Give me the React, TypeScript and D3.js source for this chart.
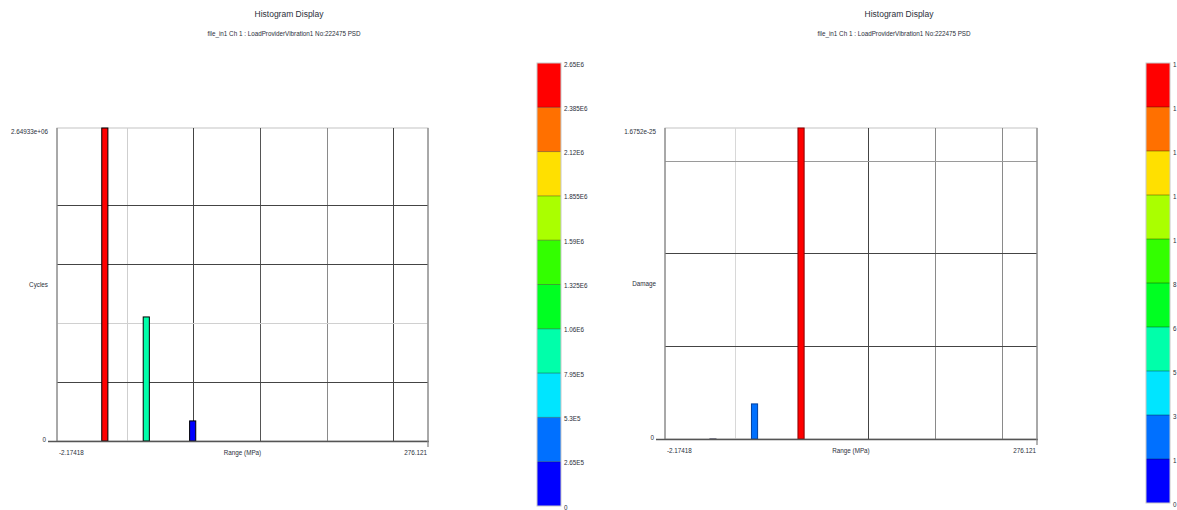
import React from "react";
import * as d3 from "d3";

// ---------- data ----------
const rangeBins = [33.7, 64.8, 99.6]; // bin centres (MPa)
const binWidth = 4.6; // MPa
const cycles = [2649330, 1050000, 170000];
const damage = [1.5e-28, 1.89e-26, 1.6752e-25];
const xMin = -2.17418;
const xMax = 276.121;
const xMinLabel = "-2.17418";
const xMaxLabel = "276.121";
const xGridTicks = [50, 100, 150, 200, 250];
const cyclesGridTicks = [500000, 1000000, 1500000, 2000000];
const damageGridTicks = [5e-26, 1e-25, 1.5e-25];
const cyclesMax = 2649330;
const damageMax = 1.6752e-25;
const legendColors = [
  "#0000FF", "#0070FF", "#00E5FF", "#00FFAA", "#00FF22",
  "#33FF00", "#AAFF00", "#FFE000", "#FF7000", "#FF0000",
]; // bottom -> top
const cyclesLegendLabels = [
  "0", "2.65E5", "5.3E5", "7.95E5", "1.06E6", "1.325E6",
  "1.59E6", "1.855E6", "2.12E6", "2.385E6", "2.65E6",
];
const damageLegendLabels = ["0", "1", "3", "5", "6", "8", "1", "1", "1", "1", "1"];
const titleText = "Histogram Display";
const subtitleText = "file_in1 Ch 1 : LoadProviderVibration1 No:222475  PSD";

const FONT = "'Liberation Sans', Arial, sans-serif";
const TXT = "#2b2f3a";

type ChartProps = {
  x0: number; x1: number; yTop: number; yBottom: number;
  values: number[]; maxV: number; yTicks: number[];
  yMaxLabel: string; yLabel: string;
  vGridColors: string[]; hGridColors: string[];
  titleX: number; legendX: number; legendBottom: number;
  legendLabels: string[];
  strokes: string[];
};

function Chart(p: ChartProps) {
  const x = d3.scaleLinear().domain([xMin, xMax]).range([p.x0, p.x1]);
  const y = d3.scaleLinear().domain([0, p.maxV]).range([p.yBottom, p.yTop]);
  const colorIdx = (v: number) => Math.min(9, Math.floor((v / p.maxV) * 10));
  const legY = d3.scaleLinear().domain([0, 10]).range([p.legendBottom, 63]);
  const legW = 24;
  return (
    <g>
      <text x={p.titleX} y={17} textAnchor="middle" fontSize={8.5} fill={TXT} fontFamily={FONT}>{titleText}</text>
      <text x={p.titleX - 5} y={36} textAnchor="middle" fontSize={6.3} fill={TXT} fontFamily={FONT}>{subtitleText}</text>
      {/* plot border */}
      <rect x={p.x0} y={p.yTop} width={p.x1 - p.x0} height={p.yBottom - p.yTop} fill="#fff" stroke="#c4c4c4" strokeWidth={1} />
      {/* grid */}
      {xGridTicks.map((t, i) => (
        <line key={"v" + i} x1={Math.round(x(t)) + 0.5} x2={Math.round(x(t)) + 0.5} y1={p.yTop} y2={p.yBottom} stroke={p.vGridColors[i]} strokeWidth={1} />
      ))}
      {p.yTicks.map((t, i) => (
        <line key={"h" + i} x1={p.x0} x2={p.x1} y1={Math.round(y(t)) + 0.5} y2={Math.round(y(t)) + 0.5} stroke={p.hGridColors[i]} strokeWidth={1} />
      ))}
      {/* bars */}
      {p.values.map((v, i) => {
        const bx = x(rangeBins[i] - binWidth / 2);
        const bw = x(rangeBins[i] + binWidth / 2) - bx;
        const top = y(v);
        return (
          <rect key={"b" + i} x={bx} y={top} width={bw} height={Math.max(0.5, p.yBottom - top)}
            fill={legendColors[colorIdx(v)]} stroke={p.strokes[i]} strokeWidth={1} />
        );
      })}
      {/* axes */}
      <line x1={p.x0} x2={p.x0} y1={p.yTop} y2={p.yBottom} stroke="#8a8a8a" strokeWidth={1.3} />
      <line x1={p.x0 - 9} x2={p.x1 + 1} y1={p.yBottom + 0.5} y2={p.yBottom + 0.5} stroke="#555" strokeWidth={1.3} />
      <line x1={p.x1} x2={p.x1} y1={p.yTop} y2={p.yBottom + 6} stroke="#8a8a8a" strokeWidth={1.3} />
      <text x={p.x0 - 9} y={p.yTop + 6} textAnchor="end" fontSize={6.3} fill={TXT} fontFamily={FONT}>{p.yMaxLabel}</text>
      <text x={p.x0 - 11} y={p.yBottom + 1} textAnchor="end" fontSize={6.3} fill={TXT} fontFamily={FONT}>0</text>
      <text x={p.x0 - 9} y={(p.yTop + p.yBottom) / 2 + 2} textAnchor="end" fontSize={6.3} fill={TXT} fontFamily={FONT}>{p.yLabel}</text>
      <text x={p.x0 + 2} y={p.yBottom + 14} textAnchor="start" fontSize={6.3} fill={TXT} fontFamily={FONT}>{xMinLabel}</text>
      <text x={(p.x0 + p.x1) / 2} y={p.yBottom + 14} textAnchor="middle" fontSize={6.3} fill={TXT} fontFamily={FONT}>Range (MPa)</text>
      <text x={p.x1 - 1} y={p.yBottom + 14} textAnchor="end" fontSize={6.3} fill={TXT} fontFamily={FONT}>{xMaxLabel}</text>
      {/* colour legend */}
      {legendColors.map((c, i) => (
        <rect key={"l" + i} x={p.legendX} y={legY(i + 1)} width={legW} height={legY(i) - legY(i + 1)} fill={c} />
      ))}
      {legendColors.slice(1).map((_, i) => (
        <line key={"lb" + i} x1={p.legendX} x2={p.legendX + legW} y1={legY(i + 1)} y2={legY(i + 1)} stroke="rgba(0,0,0,0.35)" strokeWidth={1} />
      ))}
      <rect x={p.legendX} y={legY(10)} width={legW} height={legY(0) - legY(10)} fill="none" stroke="#c8c8c8" strokeWidth={1} />
      {p.legendLabels.map((l, i) => (
        <text key={"ll" + i} x={p.legendX + legW + 3} y={legY(i) + 3.5} fontSize={6.3} fill={TXT} fontFamily={FONT}>{l}</text>
      ))}
    </g>
  );
}

export default function App() {
  return (
    <svg width={1177} height={510} style={{ position: "absolute", left: 0, top: 0, background: "#fff" }}>
      <rect x={0} y={0} width={1177} height={510} fill="#fff" />
      <Chart x0={57} x1={428} yTop={128} yBottom={441}
        values={cycles} maxV={cyclesMax} yTicks={cyclesGridTicks}
        yMaxLabel="2.64933e+06" yLabel="Cycles"
        vGridColors={["#cfcfcf", "#444", "#555", "#8a8a8a", "#444"]}
        hGridColors={["#444", "#d0d0d0", "#444", "#444"]}
        titleX={289} legendX={537} legendBottom={506} legendLabels={cyclesLegendLabels}
        strokes={["#000", "#000", "#000"]} />
      <Chart x0={665} x1={1037} yTop={128} yBottom={439}
        values={damage} maxV={damageMax} yTicks={damageGridTicks}
        yMaxLabel="1.6752e-25" yLabel="Damage"
        vGridColors={["#d8d8d8", "#444", "#444", "#8a8a8a", "#8a8a8a"]}
        hGridColors={["#444", "#444", "#9a9a9a"]}
        titleX={899} legendX={1146} legendBottom={503} legendLabels={damageLegendLabels}
        strokes={["#777", "#0040a0", "#8b0000"]} />
    </svg>
  );
}
